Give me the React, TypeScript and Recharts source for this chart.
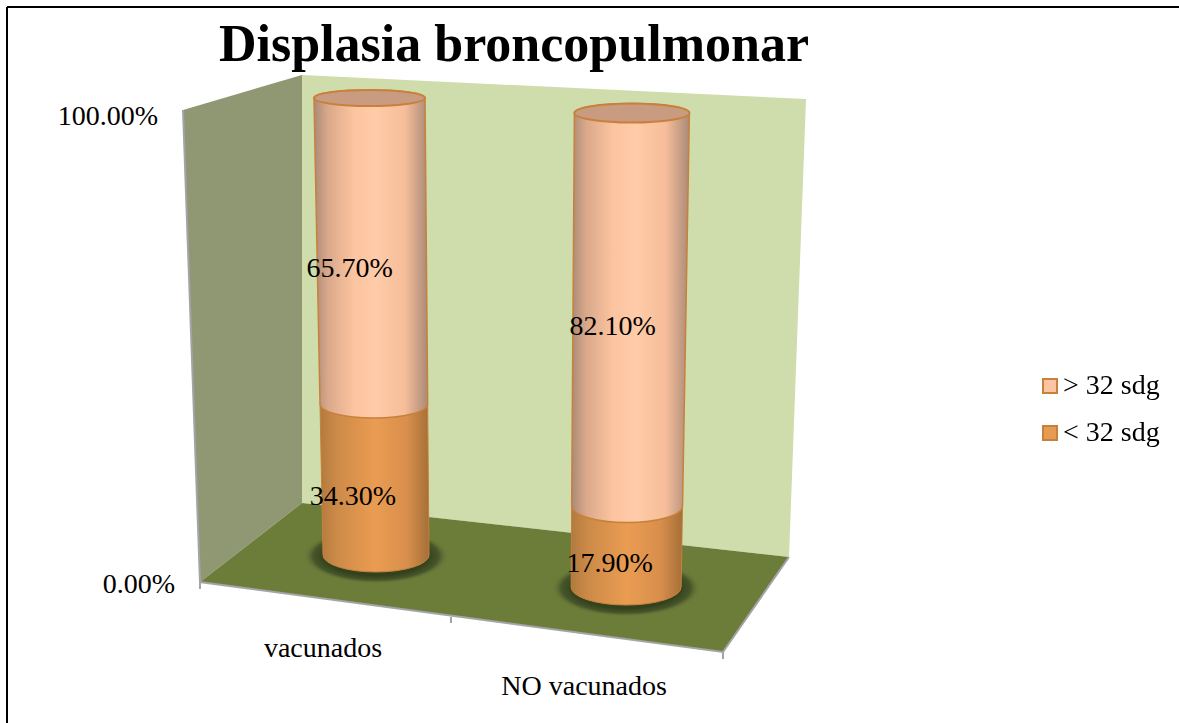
import React from "react";
import { BarChart, Bar, XAxis, YAxis, Legend, LabelList, Customized } from "recharts";

const categories = ["vacunados", "NO vacunados"];
const below32 = [34.3, 17.9];
const above32 = [65.7, 82.1];
const yTicks = [0, 100];
const chartTitle = "Displasia broncopulmonar";
const seriesBelow = "< 32 sdg";
const seriesAbove = "> 32 sdg";

const table = categories.map((name, i) => ({ name, below: below32[i], above: above32[i] }));

const W = 1179;
const H = 723;
const FONT = "'Liberation Serif', serif";
const PLOT = { left: 245, right: 757, top: 98, bottom: 555 };
const C0 = 373; // first band centre, origin of the shear
const PERSP = -0.055;

// Shear + perspective from the flat Recharts plot onto the tilted 3-D plane.
const place = (cx: number, t: number) => {
  const d = cx - C0;
  const yB = 555 + d * 0.125;
  const yT = 98 + d * 0.0586;
  const c = PERSP;
  const y = (yB + (yT * (1 + c) - yB) * t) / (1 + c * t);
  const k = (yB - y) / (yB - yT);
  const xB = 376 + d * 0.977;
  const xT = 369.5 + d * 1.025;
  const hB = 53 + d * 0.0078;
  const hT = 55.5 + d * 0.0078;
  const rB = 17 + d * 0.004;
  const rT = 8 + d * 0.0059;
  return { x: xB + (xT - xB) * k, y, hw: hB + (hT - hB) * k, ry: rB + (rT - rB) * k };
};

const toT = (py: number) => (PLOT.bottom - py) / (PLOT.bottom - PLOT.top);

const Cylinder = (props: any) => {
  const { x, y, width, height, kind } = props;
  const cx = x + width / 2;
  const a = place(cx, toT(y + height)); // lower end
  const b = place(cx, toT(y)); // upper end
  const gradient = kind === "above" ? "url(#gradAbove)" : "url(#gradBelow)";
  const side =
    `M${a.x - a.hw},${a.y} A${a.hw},${a.ry} 0 0 0 ${a.x + a.hw},${a.y} ` +
    `L${b.x + b.hw},${b.y} A${b.hw},${b.ry} 0 0 0 ${b.x - b.hw},${b.y} Z`;
  return (
    <g>
      {kind === "below" && (
        <ellipse cx={a.x} cy={a.y + 1} rx={a.hw + 20} ry={a.ry + 11} fill="url(#gradShadow)" />
      )}
      <path d={side} fill={gradient} stroke="#c8813a" strokeWidth={kind === "above" ? 1.5 : 1} />
      {kind === "above" && (
        <ellipse cx={b.x} cy={b.y} rx={b.hw} ry={b.ry} fill="#c99b80" stroke="#c8813a" strokeWidth={2} />
      )}
    </g>
  );
};

const ValueLabel = (props: any) => {
  const vb = props.viewBox ?? props;
  const { x, y, width, height } = vb;
  const cx = x + width / 2;
  const a = place(cx, toT(y + height));
  const b = place(cx, toT(y));
  const d = cx - C0;
  return (
    <text
      x={(a.x + b.x) / 2 - 22 + d * 0.02}
      y={(a.y + b.y) / 2 + 16}
      textAnchor="middle"
      dominantBaseline="central"
      fontFamily={FONT}
      fontSize={28}
      fill="#000"
    >
      {Number(props.value).toFixed(2)}%
    </text>
  );
};

const YTick = (props: any) => {
  const t = props.payload.value / 100;
  return (
    <text
      x={175 - 17 * t}
      y={props.y + 28 - 11 * t}
      textAnchor="end"
      dominantBaseline="central"
      fontFamily={FONT}
      fontSize={28}
      fill="#000"
    >
      {props.payload.value.toFixed(2)}%
    </text>
  );
};

const XTick = (props: any) => {
  const d = props.x - C0;
  return (
    <text
      x={props.x - 50 + d * 0.02}
      y={647 + d * 0.152}
      textAnchor="middle"
      dominantBaseline="central"
      fontFamily={FONT}
      fontSize={28}
      fill="#000"
    >
      {props.payload.value}
    </text>
  );
};

const Room = () => (
  <g>
    <defs>
      <linearGradient id="gradAbove" x1="0" x2="1" y1="0" y2="0">
        <stop offset="0" stopColor="#a98a78" />
        <stop offset="0.12" stopColor="#d9a88a" />
        <stop offset="0.35" stopColor="#fcc4a0" />
        <stop offset="0.55" stopColor="#ffcba8" />
        <stop offset="0.8" stopColor="#f6bd9a" />
        <stop offset="1" stopColor="#a98a78" />
      </linearGradient>
      <linearGradient id="gradBelow" x1="0" x2="1" y1="0" y2="0">
        <stop offset="0" stopColor="#b27a3e" />
        <stop offset="0.15" stopColor="#cc8a48" />
        <stop offset="0.5" stopColor="#ea9c52" />
        <stop offset="0.8" stopColor="#d88f4c" />
        <stop offset="1" stopColor="#a56f38" />
      </linearGradient>
      <radialGradient id="gradShadow">
        <stop offset="0" stopColor="#33411c" />
        <stop offset="0.7" stopColor="#33411c" />
        <stop offset="0.86" stopColor="#46562a" />
        <stop offset="1" stopColor="#6c7d3a" stopOpacity="0" />
      </radialGradient>
    </defs>
    <line x1={7} y1={7} x2={W} y2={7} stroke="#000" strokeWidth={2} />
    <line x1={7} y1={7} x2={7} y2={H} stroke="#000" strokeWidth={2} />
    <text
      x={514}
      y={61}
      textAnchor="middle"
      fontFamily={FONT}
      fontWeight="bold"
      fontSize={52}
      fill="#000"
    >
      {chartTitle}
    </text>
    <polygon points="302,75 806,99 789,557 302,503" fill="#cfdcab" />
    <polygon points="183,110 302,75 302,503 200,582" fill="#8f9873" />
    <polygon points="200,582 302,503 789,557 723,652" fill="#6c7d3a" />
    <polyline points="183,110 200,582 723,652 789,557" fill="none" stroke="#a3a3a8" strokeWidth={2} />
    <line x1={200} y1={582} x2={200} y2={589} stroke="#a3a3a8" strokeWidth={2} />
    <line x1={451} y1={617} x2={451} y2={623} stroke="#a3a3a8" strokeWidth={2} />
    <line x1={723} y1={652} x2={723} y2={659} stroke="#a3a3a8" strokeWidth={2} />
  </g>
);

const LegendBox = () => {
  const rows = [
    { label: seriesAbove, fill: "#fcc4a0", top: 378 },
    { label: seriesBelow, fill: "#e69a52", top: 425 },
  ];
  return (
    <div style={{ position: "fixed", left: 0, top: 0, width: 0, height: 0 }}>
      {rows.map((r) => (
        <div key={r.label}>
          <div
            style={{
              position: "fixed",
              left: 1042,
              top: r.top,
              width: 12,
              height: 12,
              background: r.fill,
              border: "2px solid #c8813a",
            }}
          />
          <div
            style={{
              position: "fixed",
              left: 1063,
              top: r.top - 8,
              fontFamily: FONT,
              fontSize: 28,
              lineHeight: "30px",
              whiteSpace: "nowrap",
              color: "#000",
            }}
          >
            {r.label}
          </div>
        </div>
      ))}
    </div>
  );
};

export default function App() {
  return (
    <div style={{ position: "absolute", left: 0, top: 0, width: W, height: H, background: "#fff" }}>
      <BarChart
        width={W}
        height={H}
        data={table}
        barCategoryGap="58%"
        margin={{ top: PLOT.top, bottom: H - PLOT.bottom - 30, left: PLOT.left - 60, right: W - PLOT.right }}
      >
        <Customized component={Room} />
        <XAxis dataKey="name" height={30} axisLine={false} tickLine={false} tick={<XTick />} interval={0} />
        <YAxis
          width={60}
          domain={[0, 100]}
          ticks={yTicks}
          axisLine={false}
          tickLine={false}
          tick={<YTick />}
          interval={0}
        />
        <Legend content={<LegendBox />} wrapperStyle={{ left: 0, top: 0, width: 0, height: 0 }} width={0} height={0} />
        <Bar
          dataKey="below"
          name={seriesBelow}
          stackId="a"
          isAnimationActive={false}
          shape={(p: any) => <Cylinder {...p} kind="below" />}
        >
          <LabelList dataKey="below" content={<ValueLabel />} />
        </Bar>
        <Bar
          dataKey="above"
          name={seriesAbove}
          stackId="a"
          isAnimationActive={false}
          shape={(p: any) => <Cylinder {...p} kind="above" />}
        >
          <LabelList dataKey="above" content={<ValueLabel />} />
        </Bar>
      </BarChart>
    </div>
  );
}
